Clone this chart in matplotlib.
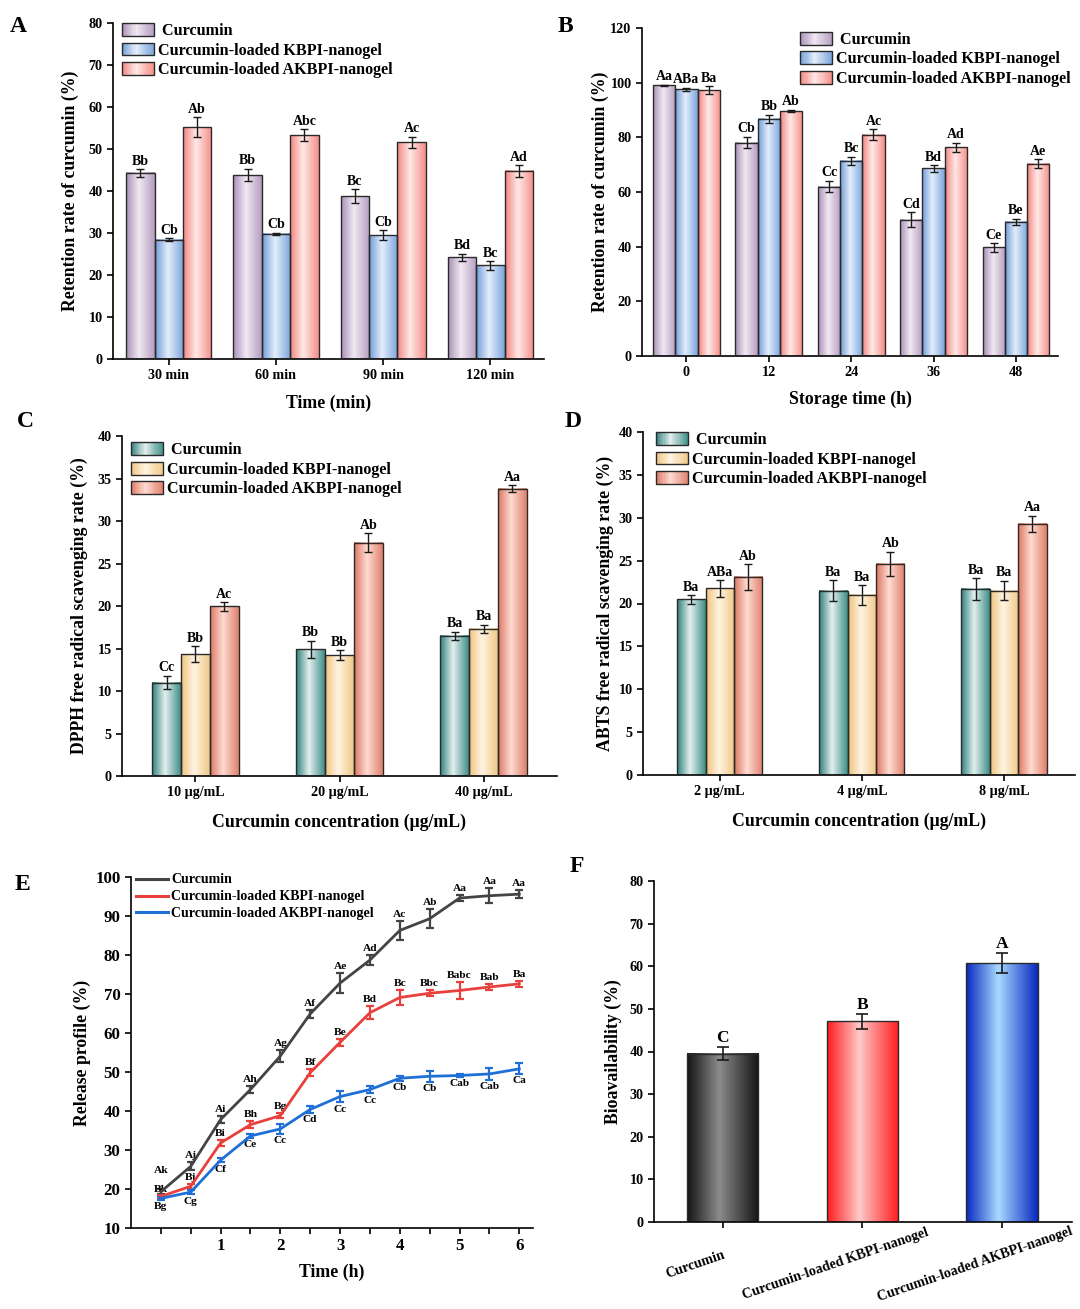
import numpy as np
import matplotlib
matplotlib.use('Agg')
import matplotlib.pyplot as plt
from matplotlib.colors import LinearSegmentedColormap
from matplotlib.patches import Rectangle
from matplotlib.lines import Line2D
from matplotlib.legend_handler import HandlerBase
import matplotlib.transforms as mtransforms

plt.rcParams['font.family'] = ['Liberation Serif', 'DejaVu Serif']
plt.rcParams['font.weight'] = 'bold'
plt.rcParams['axes.labelweight'] = 'bold'
plt.rcParams['axes.linewidth'] = 1.2
for a in ('xtick', 'ytick'):
    plt.rcParams[a + '.major.width'] = 1.2
    plt.rcParams[a + '.major.size'] = 4
    plt.rcParams[a + '.direction'] = 'out'
    plt.rcParams[a + '.labelsize'] = 10.2

# ---------------- data ----------------
series_names = [' Curcumin', 'Curcumin-loaded KBPI-nanogel', 'Curcumin-loaded AKBPI-nanogel']

# Panel A
a_cats = ['30 min', '60 min', '90 min', '120 min']
a_cur = [44.3, 43.8, 38.8, 24.2]
a_cur_err = [0.9, 1.5, 1.7, 0.9]
a_kb = [28.4, 29.8, 29.5, 22.3]
a_kb_err = [0.4, 0.3, 1.1, 1.0]
a_ak = [55.2, 53.3, 51.6, 44.8]
a_ak_err = [2.4, 1.4, 1.3, 1.4]
a_let_cur = ['Bb', 'Bb', 'Bc', 'Bd']
a_let_kb = ['Cb', 'Cb', 'Cb', 'Bc']
a_let_ak = ['Ab', 'Abc', 'Ac', 'Ad']

# Panel B
b_cats = ['0', '12', '24', '36', '48']
b_cur = [99.0, 78.1, 62.0, 49.9, 39.7]
b_cur_err = [0.3, 2.1, 2.1, 2.7, 1.6]
b_kb = [97.6, 86.8, 71.4, 68.6, 49.1]
b_kb_err = [0.5, 1.5, 1.5, 1.3, 1.2]
b_ak = [97.3, 89.6, 81.0, 76.4, 70.4]
b_ak_err = [1.4, 0.5, 2.0, 1.7, 1.6]
b_let_cur = ['Aa', 'Cb', 'Cc', 'Cd', 'Ce']
b_let_kb = ['ABa', 'Bb', 'Bc', 'Bd', 'Be']
b_let_ak = ['Ba', 'Ab', 'Ac', 'Ad', 'Ae']

# Panel C
c_cats = ['10 μg/mL', '20 μg/mL', '40 μg/mL']
c_cur = [11.0, 14.9, 16.5]
c_cur_err = [0.8, 1.0, 0.5]
c_kb = [14.35, 14.2, 17.3]
c_kb_err = [0.95, 0.6, 0.5]
c_ak = [19.96, 27.45, 33.8]
c_ak_err = [0.5, 1.1, 0.4]
c_let_cur = ['Cc', 'Bb', 'Ba']
c_let_kb = ['Bb', 'Bb', 'Ba']
c_let_ak = ['Ac', 'Ab', 'Aa']

# Panel D
d_cats = ['2 μg/mL', '4 μg/mL', '8 μg/mL']
d_cur = [20.5, 21.5, 21.7]
d_cur_err = [0.5, 1.2, 1.25]
d_kb = [21.75, 21.0, 21.5]
d_kb_err = [0.95, 1.15, 1.15]
d_ak = [23.1, 24.65, 29.3]
d_ak_err = [1.5, 1.4, 0.95]
d_let_cur = ['Ba', 'Ba', 'Ba']
d_let_kb = ['ABa', 'Ba', 'Ba']
d_let_ak = ['Ab', 'Ab', 'Aa']

# Panel E
e_time = [0, 0.5, 1, 1.5, 2, 2.5, 3, 3.5, 4, 4.5, 5, 5.5, 6]
e_cur = [19.3, 25.8, 37.8, 45.5, 54.1, 64.9, 72.8, 78.7, 86.3, 89.3, 94.6, 95.2, 95.6]
e_cur_err = [0.6, 1.0, 1.0, 0.9, 1.6, 1.0, 2.5, 1.3, 2.4, 2.5, 0.8, 1.9, 1.1]
e_kb = [18.1, 20.7, 31.8, 36.5, 38.8, 49.8, 57.6, 65.2, 69.1, 70.2, 70.9, 71.8, 72.6]
e_kb_err = [0.4, 0.6, 0.8, 0.9, 0.6, 0.9, 0.9, 1.7, 2.0, 0.8, 2.2, 0.8, 0.8]
e_ak = [17.6, 19.2, 27.4, 33.6, 35.4, 40.4, 43.7, 45.5, 48.4, 48.9, 49.1, 49.5, 50.8]
e_ak_err = [0.4, 0.6, 0.6, 0.4, 1.2, 0.9, 1.5, 1.0, 0.6, 1.4, 0.3, 1.6, 1.4]
e_let_cur = ['Ak', 'Aj', 'Ai', 'Ah', 'Ag', 'Af', 'Ae', 'Ad', 'Ac', 'Ab', 'Aa', 'Aa', 'Aa']
e_let_kb = ['Bk', 'Bj', 'Bi', 'Bh', 'Bg', 'Bf', 'Be', 'Bd', 'Bc', 'Bbc', 'Babc', 'Bab', 'Ba']
e_let_ak = ['Bg', 'Cg', 'Cf', 'Ce', 'Cc', 'Cd', 'Cc', 'Cc', 'Cb', 'Cb', 'Cab', 'Cab', 'Ca']

# Panel F
f_cats = ['Curcumin', 'Curcumin-loaded KBPI-nanogel', 'Curcumin-loaded AKBPI-nanogel']
f_vals = [39.5, 47.1, 60.7]
f_err = [1.6, 1.8, 2.4]
f_let = ['C', 'B', 'A']

# ---------------- helpers ----------------
def gcmap(edge, mid, edge2=None):
    edge2 = edge2 or edge
    return LinearSegmentedColormap.from_list('g', [(0, edge), (0.45, mid), (1, edge2)])

cm_ab = [gcmap('#a98fb8', '#f1e9f2', '#b49dc0'), gcmap('#6f9cd8', '#e4eefb', '#7aa4dc'), gcmap('#f3847f', '#ffe9e6', '#f58e88')]
cm_cd = [gcmap('#2f7f7a', '#e3f0ef', '#3f8e88'), gcmap('#efc27c', '#fff4e2', '#f0c887'), gcmap('#dc7560', '#ffdcd2', '#e0806c')]
cm_f = [gcmap('#141414', '#8c8c8c'), gcmap('#ff1c1c', '#ffcaca'), gcmap('#0828c0', '#a8daff')]

EDGE = '#2a2a2a'
GRAD = np.linspace(0, 1, 128).reshape(1, -1)


def gbar(ax, x, h, w, cmap):
    bars = ax.bar(x, h, w, facecolor='none', edgecolor=EDGE, linewidth=1.0, zorder=3)
    for p in bars.patches:
        x0, y0 = p.get_x(), p.get_y()
        ax.imshow(GRAD, cmap=cmap, extent=[x0, x0 + p.get_width(), y0, y0 + p.get_height()],
                  aspect='auto', zorder=2, interpolation='bilinear')
    return bars


class GradHandler(HandlerBase):
    def __init__(self, cmap):
        super().__init__()
        self.cmap = cmap

    def create_artists(self, legend, orig_handle, xdescent, ydescent, width, height, fontsize, trans):
        n = 30
        arts = []
        for i in range(n):
            arts.append(Rectangle((-xdescent + width * i / n, -ydescent), width / n + 0.2, height,
                                  facecolor=self.cmap((i + 0.5) / n), edgecolor='none', transform=trans))
        arts.append(Rectangle((-xdescent, -ydescent), width, height, facecolor='none',
                              edgecolor=EDGE, linewidth=1.0, transform=trans))
        return arts


def grad_legend(ax, cmaps, anchor, fs=11.6):
    handles = [Rectangle((0, 0), 1, 1) for _ in cmaps]
    hm = {h: GradHandler(c) for h, c in zip(handles, cmaps)}
    ax.legend(handles, series_names, handler_map=hm, loc='upper left', bbox_to_anchor=anchor,
              frameon=False, fontsize=fs, handlelength=2.0, handleheight=0.85, labelspacing=0.22,
              handletextpad=0.25, borderaxespad=0, borderpad=0)


def letters(ax, xs, tops, labs, fs=10, dy=1.0, va='bottom', extra=None):
    for k, (xx, tt, ll) in enumerate(zip(xs, tops, labs)):
        d = dy + (extra.get(k, 0) if extra else 0)
        ax.annotate(ll, (xx, tt), xytext=(0, d), textcoords='offset points',
                    ha='center', va=va, fontsize=fs, fontweight='bold')


def grouped(ax, cats, vals, errs, labs, cmaps, width):
    x = np.arange(len(cats))
    for i in range(3):
        xs = x + (i - 1) * width
        gbar(ax, xs, vals[i], width, cmaps[i])
        ax.errorbar(xs, vals[i], yerr=errs[i], fmt='none', ecolor='#1a1a1a', elinewidth=1.0,
                    capsize=3, capthick=1.0, zorder=4)
        letters(ax, xs, np.array(vals[i]) + np.array(errs[i]), labs[i])
    ax.set_xticks(x)
    ax.set_xticklabels(cats)
    ax.spines[['top', 'right']].set_visible(False)


def place(ax, xl, yl, xlx, xly, ylx, yly=0.5, fs=12.8):
    ax.set_xlabel(xl, fontsize=fs)
    ax.set_ylabel(yl, fontsize=fs)
    ax.xaxis.set_label_coords(xlx, xly)
    ax.yaxis.set_label_coords(ylx, yly)
    ax.xaxis.label.set_va('center')
    ax.yaxis.label.set_va('center')


W, H = 1080, 1309
fig = plt.figure(figsize=(W / 100, H / 100), dpi=100)


def axpx(left, right, top, bottom):
    return fig.add_axes([left / W, 1 - bottom / H, (right - left) / W, (bottom - top) / H])

# ---------------- A ----------------
axA = axpx(113, 544, 23, 359)
grouped(axA, a_cats, [a_cur, a_kb, a_ak], [a_cur_err, a_kb_err, a_ak_err],
        [a_let_cur, a_let_kb, a_let_ak], cm_ab, 0.265)
axA.set_xlim(-0.52, 3.5)
axA.set_ylim(0, 80)
axA.set_yticks(np.arange(0, 81, 10))
grad_legend(axA, cm_ab, (0.02, 1.0))
place(axA, 'Time (min)', 'Retention rate of curcumin (%)', 0.5, -0.131, -0.10)

# ---------------- B ----------------
axB = axpx(642, 1058, 28, 356)
grouped(axB, b_cats, [b_cur, b_kb, b_ak], [b_cur_err, b_kb_err, b_ak_err],
        [b_let_cur, b_let_kb, b_let_ak], cm_ab, 0.27)
axB.set_xlim(-0.54, 4.51)
axB.set_ylim(0, 120)
axB.set_yticks(np.arange(0, 121, 20))
grad_legend(axB, cm_ab, (0.38, 0.988))
place(axB, 'Storage time (h)', 'Retention rate of curcumin (%)', 0.5, -0.131, -0.10)

# ---------------- C ----------------
axC = axpx(122, 557, 436, 776)
grouped(axC, c_cats, [c_cur, c_kb, c_ak], [c_cur_err, c_kb_err, c_ak_err],
        [c_let_cur, c_let_kb, c_let_ak], cm_cd, 0.2)
axC.set_xlim(-0.51, 2.51)
axC.set_ylim(0, 40)
axC.set_yticks(np.arange(0, 41, 5))
grad_legend(axC, cm_cd, (0.02, 0.982))
place(axC, 'Curcumin concentration (μg/mL)', 'DPPH free radical scavenging rate (%)', 0.5, -0.135, -0.097)

# ---------------- D ----------------
axD = axpx(643, 1075, 432, 775)
grouped(axD, d_cats, [d_cur, d_kb, d_ak], [d_cur_err, d_kb_err, d_ak_err],
        [d_let_cur, d_let_kb, d_let_ak], cm_cd, 0.2)
axD.set_xlim(-0.54, 2.5)
axD.set_ylim(0, 40)
axD.set_yticks(np.arange(0, 41, 5))
grad_legend(axD, cm_cd, (0.03, 1.0))
place(axD, 'Curcumin concentration (μg/mL)', 'ABTS free radical scavenging rate (%)', 0.5, -0.134, -0.088)

# ---------------- E ----------------
axE = axpx(131, 533, 877, 1228)
e_series = [(e_cur, e_cur_err, '#444444', e_let_cur, 'up', {0: 9}),
            (e_kb, e_kb_err, '#e8403c', e_let_kb, 'up', {0: -1}),
            (e_ak, e_ak_err, '#1f6fd6', e_let_ak, 'down', {})]
handles = []
for (v, er, col, labs, pos, extra), name in zip(e_series, series_names):
    axE.errorbar(e_time, v, yerr=er, color=col, lw=2.0, elinewidth=1.6, capsize=3, capthick=1.6,
                 zorder=3)
    handles.append(Line2D([], [], color=col, lw=2.2, label=name.strip()))
    v = np.array(v); er = np.array(er)
    if pos == 'up':
        letters(axE, e_time, v + er, labs, fs=8.2, dy=1.5, va='bottom', extra=extra)
    else:
        letters(axE, e_time, v - er, labs, fs=8.2, dy=-1.5, va='top', extra=extra)
axE.set_xlim(-0.5, 6.23)
axE.set_ylim(10, 100)
axE.set_yticks(np.arange(10, 101, 10))
xt = np.arange(0, 6.01, 0.5)
axE.set_xticks(xt)
axE.set_xticklabels([('%d' % t if (t >= 1 and t == int(t)) else '') for t in xt])
axE.tick_params(labelsize=12.2)
axE.spines[['top', 'right']].set_visible(False)
axE.legend(handles=handles, loc='upper left', bbox_to_anchor=(0.012, 1.01), frameon=False, fontsize=10,
           handlelength=2.3, labelspacing=0.28, handletextpad=0.25, borderaxespad=0, borderpad=0)
place(axE, 'Time (h)', 'Release profile (%)', 0.5, -0.125, -0.122)

# ---------------- F ----------------
axF = axpx(654, 1072, 881, 1222)
fx = np.arange(len(f_cats))
for i in range(3):
    gbar(axF, [fx[i]], [f_vals[i]], 0.51, cm_f[i])
axF.errorbar(fx, f_vals, yerr=f_err, fmt='none', ecolor='#1a1a1a', elinewidth=1.2, capsize=4,
             capthick=1.2, zorder=4)
letters(axF, fx, np.array(f_vals) + np.array(f_err), f_let, fs=12.5, dy=0.5)
axF.set_xlim(-0.49, 2.5)
axF.set_ylim(0, 80)
axF.set_yticks(np.arange(0, 81, 10))
axF.set_xticks(fx)
axF.set_xticklabels(f_cats, rotation=19, ha='center', va='center', rotation_mode='anchor', fontsize=10.2)
off = mtransforms.ScaledTranslation(-0.27, -0.32, fig.dpi_scale_trans)
for lab in axF.get_xticklabels():
    lab.set_transform(lab.get_transform() + off)
axF.spines[['top', 'right']].set_visible(False)
axF.set_ylabel('Bioavailability (%)', fontsize=12.8)
axF.yaxis.set_label_coords(-0.098, 0.5)
axF.yaxis.label.set_va('center')

# ---------------- panel letters ----------------
for t, x, y in [('A', 18, 27), ('B', 565, 27), ('C', 25, 422), ('D', 573, 421), ('E', 22, 885), ('F', 577, 866)]:
    fig.text(x / W, 1 - y / H, t, fontsize=17, fontweight='bold', ha='center', va='center')

fig.savefig('out.png', dpi=100)
